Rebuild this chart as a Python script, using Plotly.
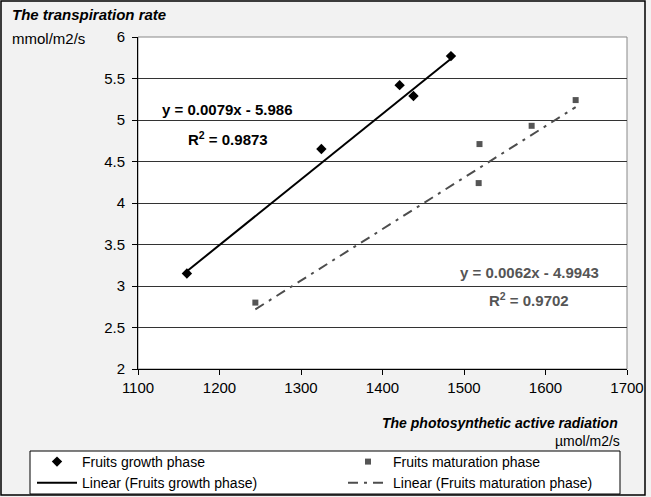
import plotly.graph_objects as go

# ---- data ----
growth_x = [1160, 1325, 1421, 1438, 1484]
growth_y = [3.15, 4.65, 5.42, 5.29, 5.77]
mat_x = [1244, 1518, 1519, 1583, 1637]
mat_y = [2.80, 4.24, 4.71, 4.93, 5.24]
growth_fit = (0.0079, -5.986)   # slope, intercept
mat_fit = (0.0062, -4.9943)
growth_eq = "y = 0.0079x - 5.986"
growth_r2 = "R<sup>2</sup> = 0.9873"
mat_eq = "y = 0.0062x - 4.9943"
mat_r2 = "R<sup>2</sup> = 0.9702"
x_ticks = [1100, 1200, 1300, 1400, 1500, 1600, 1700]
y_ticks = [2, 2.5, 3, 3.5, 4, 4.5, 5, 5.5, 6]

FONT = "Liberation Sans, Arial, sans-serif"

def fit_line(xs, fit):
    lo, hi = min(xs), max(xs)
    return [lo, hi], [fit[0] * lo + fit[1], fit[0] * hi + fit[1]]

W, H = 651, 497
ml, mr, mt, mb = 138, 24, 37, 128
pw, ph = W - ml - mr, H - mt - mb

def px(x):
    return (x - ml) / pw

def py(y):
    return (ph - (y - mt)) / ph

fig = go.Figure()
fig.add_trace(go.Scatter(x=growth_x, y=growth_y, mode="markers", name="Fruits growth phase",
                         legend="legend",
                         marker=dict(symbol="diamond", size=8, color="black")))
gx, gy = fit_line(growth_x, growth_fit)
fig.add_trace(go.Scatter(x=gx, y=gy, mode="lines", name="Linear (Fruits growth phase)",
                         legend="legend",
                         line=dict(color="black", width=2)))
fig.add_trace(go.Scatter(x=mat_x, y=mat_y, mode="markers", name="Fruits maturation phase",
                         legend="legend2",
                         marker=dict(symbol="square", size=6, color="#555555")))
mx, my = fit_line(mat_x, mat_fit)
fig.add_trace(go.Scatter(x=mx, y=my, mode="lines", name="Linear (Fruits maturation phase)",
                         legend="legend2",
                         line=dict(color="#4d4d4d", width=2, dash="10px,6px,3px,6px")))

leg_common = dict(orientation="v", xanchor="left", yanchor="top", y=py(446),
                  bgcolor="rgba(0,0,0,0)", borderwidth=0, itemwidth=40,
                  traceorder="normal", font=dict(family=FONT, size=14))

fig.update_layout(
    width=W, height=H,
    margin=dict(l=ml, r=mr, t=mt, b=mb, autoexpand=False),
    paper_bgcolor="#f2f2f2", plot_bgcolor="white",
    font=dict(family=FONT, size=15, color="black"),
    showlegend=True,
    legend=dict(x=px(32), **leg_common),
    legend2=dict(x=px(343), **leg_common),
    xaxis=dict(range=[1100, 1700], tickvals=x_ticks, showgrid=False, zeroline=False,
               showline=True, linecolor="black", linewidth=1,
               ticks="outside", ticklen=5, tickcolor="black",
               tickfont=dict(size=15)),
    yaxis=dict(range=[2, 6], tickvals=y_ticks, showgrid=True, gridcolor="#333333", gridwidth=1,
               zeroline=False, showline=True, linecolor="black", linewidth=1,
               ticks="outside", ticklen=5, tickcolor="black", ticklabelstandoff=4,
               tickfont=dict(size=15)),
)

# plot area frame (gray top/right), legend box and outer chart frame
fig.add_shape(type="rect", xref="paper", yref="paper", x0=0, x1=1, y0=0, y1=1,
              line=dict(color="#888888", width=1), layer="below")
fig.add_shape(type="rect", xref="paper", yref="paper",
              x0=px(30), x1=px(620), y0=py(494), y1=py(451),
              fillcolor="white", line=dict(color="black", width=1), layer="above")
fig.add_shape(type="rect", xref="paper", yref="paper",
              x0=px(1), x1=px(645), y0=py(495), y1=py(1),
              line=dict(color="black", width=1.5))

ann = []
ann.append(dict(text="<b><i>The transpiration rate</i></b>", x=px(10), y=py(14),
                xanchor="left", yanchor="middle", font=dict(size=15)))
ann.append(dict(text="mmol/m2/s", x=px(10), y=py(38),
                xanchor="left", yanchor="middle", font=dict(size=15)))
ann.append(dict(text="<b><i>The photosynthetic active radiation</i></b>", x=px(620),
                y=py(423), xanchor="right", yanchor="middle", font=dict(size=14)))
ann.append(dict(text="µmol/m2/s", x=px(622), y=py(441),
                xanchor="right", yanchor="middle", font=dict(size=14)))
ann.append(dict(text="<b>" + growth_eq + "</b>", x=px(227), y=py(110),
                xanchor="center", yanchor="middle", font=dict(size=15, color="black")))
ann.append(dict(text="<b>" + growth_r2 + "</b>", x=px(228), y=py(138),
                xanchor="center", yanchor="middle", font=dict(size=15, color="black")))
ann.append(dict(text="<b>" + mat_eq + "</b>", x=px(529), y=py(272),
                xanchor="center", yanchor="middle", font=dict(size=15, color="#555555")))
ann.append(dict(text="<b>" + mat_r2 + "</b>", x=px(529), y=py(299),
                xanchor="center", yanchor="middle", font=dict(size=15, color="#555555")))
for a in ann:
    a.update(xref="paper", yref="paper", showarrow=False)
    fig.add_annotation(**a)

fig.write_html("out.html", config={"displayModeBar": False},
               post_script="document.body.style.margin='0';")
